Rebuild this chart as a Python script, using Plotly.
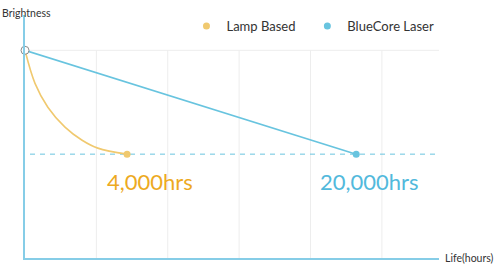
import plotly.graph_objects as go

# Data (x in grid units of life, y = relative brightness)
lamp_x = [0.0, 0.14, 0.32, 0.56, 0.80, 1.02, 1.43]
lamp_y = [1.0, 0.841, 0.726, 0.63, 0.567, 0.529, 0.5]
laser_x = [0.0, 4.64]
laser_y = [1.0, 0.5]
series_names = ["Lamp Based", "BlueCore Laser"]
end_labels = ["4,000hrs", "20,000hrs"]
grid_x = [1, 2, 3, 4, 5]
half_level = 0.5

LAMP = "#F0C96F"
LAMP_TXT = "#EDAA1F"
LASER = "#68C4DF"
LASER_TXT = "#52B9DC"
AXIS = "#86CDE7"
GRID = "#EDEDED"
FONT = "Lato, 'Open Sans', sans-serif"

fig = go.Figure()

fig.add_trace(go.Scatter(x=lamp_x, y=lamp_y, mode="lines", line=dict(color=LAMP, width=1.6, shape="spline"),
                         showlegend=False, hoverinfo="skip"))
fig.add_trace(go.Scatter(x=laser_x, y=laser_y, mode="lines", line=dict(color=LASER, width=1.6),
                         showlegend=False, hoverinfo="skip"))
fig.add_trace(go.Scatter(x=[lamp_x[-1]], y=[lamp_y[-1]], mode="markers", marker=dict(color=LAMP, size=7),
                         name=series_names[0], showlegend=True, legend="legend"))
fig.add_trace(go.Scatter(x=[laser_x[-1]], y=[laser_y[-1]], mode="markers", marker=dict(color=LASER, size=7),
                         name=series_names[1], showlegend=True, legend="legend2"))
fig.add_trace(go.Scatter(x=[lamp_x[0]], y=[lamp_y[0]], mode="markers",
                         marker=dict(color="white", size=8, line=dict(color="#8a8a8a", width=1)),
                         showlegend=False, hoverinfo="skip", cliponaxis=False))

shapes = []
for gx in grid_x:
    shapes.append(dict(type="line", xref="x", yref="y", x0=gx, x1=gx, y0=0, y1=1,
                       line=dict(color=GRID, width=1), layer="below"))
shapes.append(dict(type="line", xref="x", yref="y", x0=0, x1=5.8, y0=1, y1=1,
                   line=dict(color=GRID, width=1), layer="below"))
shapes.append(dict(type="line", xref="x", yref="y", x0=0.07, x1=5.8, y0=half_level, y1=half_level,
                   line=dict(color=LASER, width=1, dash="5px,5px"), layer="below"))

annotations = [
    dict(text=end_labels[0], x=lamp_x[-1] + 0.32, y=0.366, xref="x", yref="y", showarrow=False,
         font=dict(family=FONT, size=22, color=LAMP_TXT), xanchor="center", yanchor="middle"),
    dict(text=end_labels[1], x=laser_x[-1] + 0.18, y=0.366, xref="x", yref="y", showarrow=False,
         font=dict(family=FONT, size=22, color=LASER_TXT), xanchor="center", yanchor="middle"),
    dict(text="Brightness", x=-25 / 414, y=1.0 + 2 / 243, xref="paper", yref="paper", showarrow=False,
         font=dict(family=FONT, size=10.5, color="#333"), xanchor="left", yanchor="middle"),
    dict(text="Life(hours)", x=1 + 4 / 414, y=0, xref="paper", yref="paper", showarrow=False,
         font=dict(family=FONT, size=10.5, color="#333"), xanchor="left", yanchor="middle"),
]

legend_common = dict(orientation="h", y=0.955, xanchor="left", yanchor="middle",
                     font=dict(family=FONT, size=13, color="#333"), bgcolor="rgba(0,0,0,0)",
                     itemclick=False)

fig.update_layout(
    width=494, height=265,
    margin=dict(l=25, r=55, t=15, b=7, autoexpand=False),
    paper_bgcolor="white", plot_bgcolor="white",
    shapes=shapes, annotations=annotations,
    font=dict(family=FONT, color="#333"),
    legend=dict(x=0.39, **legend_common),
    legend2=dict(x=0.682, **legend_common),
    xaxis=dict(range=[0, 5.8], showgrid=False, zeroline=False, showticklabels=False, ticks="",
               showline=True, linecolor=AXIS, linewidth=1.5, fixedrange=True),
    yaxis=dict(range=[0, 1.17], showgrid=False, zeroline=False, showticklabels=False, ticks="",
               showline=True, linecolor=AXIS, linewidth=1.5, fixedrange=True),
    showlegend=True,
)

fig.write_html("out.html")
